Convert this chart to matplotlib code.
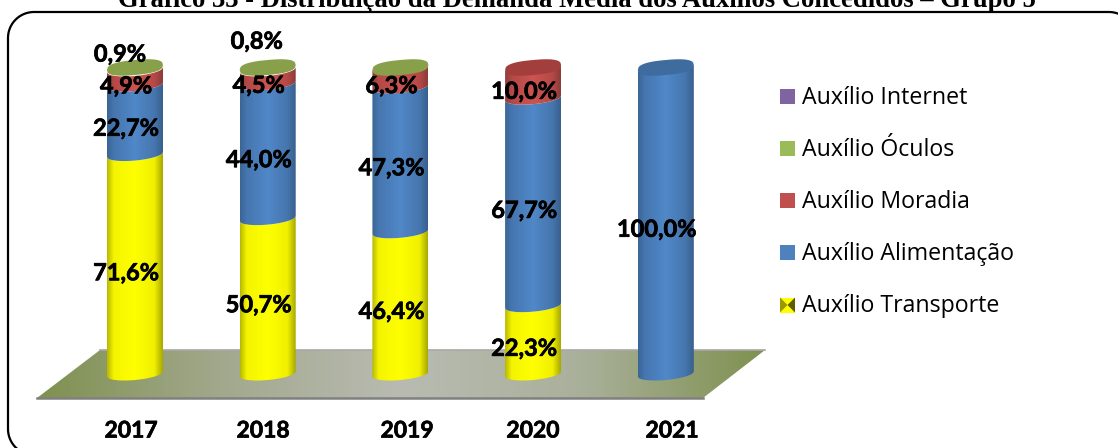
import numpy as np
import matplotlib
matplotlib.use("Agg")
import matplotlib.pyplot as plt
import matplotlib.patheffects as pe
from matplotlib.colors import LinearSegmentedColormap
from matplotlib.patches import Polygon

# ---------- data ----------
years = ["2017", "2018", "2019", "2020", "2021"]
series_names = ["Auxílio Transporte", "Auxílio Alimentação", "Auxílio Moradia",
                "Auxílio Óculos", "Auxílio Internet"]
transporte = [71.6, 50.7, 46.4, 22.3, 0.0]
alimentacao = [22.7, 44.0, 47.3, 67.7, 100.0]
moradia = [4.9, 4.5, 6.3, 10.0, 0.0]
oculos = [0.9, 0.8, 0.1, 0.0, 0.0]
internet = [0.0, 0.0, 0.0, 0.0, 0.0]
title = "Gráfico 33 - Distribuição da Demanda Média dos Auxílios Concedidos – Grupo 5"

# ---------- style ----------
W, H = 1118, 448
PX0 = 135.0      # pixel x of first category
STEP = 132.7     # pixels per category
PY0 = 374.0      # pixel y of 0 %
PPP = 3.065      # pixels per percent
HALF_W = 28.0    # cylinder half width, px
BULGE = 6.0      # front-arc depth, px
TILT = 2.5       # right side higher than left by this, px
year_px = [131, 263, 407, 533, 672]
stops = [0.0, 0.12, 0.5, 0.85, 1.0]
side_cols = {
    0: ("#b8b800", "#f4f400", "#ffff00", "#f0f000", "#a8a800"),
    1: ("#3a6596", "#4676b0", "#5088c8", "#4676ae", "#385f8e"),
    2: ("#8e3f3c", "#b54946", "#cc5451", "#b54946", "#8a3c3a"),
}
cap_cols = {0: "#d8d800", 1: "#3f6c9f", 2: "#a23f3c", 3: "#88a04a"}
legend_cols = {1: "#4f81bd", 2: "#c0504d", 3: "#9bbb59", 4: "#8064a2"}
thick = [pe.withStroke(linewidth=0.5, foreground="black")]
LABEL_FONT = dict(fontsize=17, fontweight="bold", family="Lato", color="black", zorder=20,
                  path_effects=thick)
YEAR_FONT = dict(fontsize=16.5, fontweight="bold", family="Lato", color="black", zorder=20,
                 path_effects=thick)

fig = plt.figure(figsize=(W / 100, H / 100), dpi=100)
ax = fig.add_axes([0, 0, 1, 1])
ax.axis("off")


def X(px):
    return (np.asarray(px, dtype=float) - PX0) / STEP


def Y(py):
    return (PY0 - np.asarray(py, dtype=float)) / PPP


dxu = HALF_W / STEP
bulge_u = BULGE / PPP
tilt_u = TILT / PPP

# outer rounded frame (runs past the right and bottom edges of the picture)
t = np.linspace(0, np.pi / 2, 24)
R = 26
xs, ys = [], []
for (cx, cy, a0) in [(8 + R, 12 + R, np.pi), (1135 - R, 12 + R, 1.5 * np.pi),
                     (1135 - R, 455 - R, 0.0), (8 + R, 455 - R, 0.5 * np.pi)]:
    xs += list(cx + R * np.cos(a0 + t))
    ys += list(cy + R * np.sin(a0 + t))
ax.add_patch(Polygon(np.column_stack([X(xs), Y(ys)]), closed=True,
                     fc="white", ec="black", lw=1.6, zorder=1))

# floor
floor_pts = np.array([[X(37), Y(398)], [X(100), Y(350)], [X(765), Y(350)], [X(703), Y(398)]])
floor_cm = LinearSegmentedColormap.from_list("fl", ["#7f9150", "#a2a88c", "#b9bbb2", "#a9b09a", "#7f9150"])
floor_img = ax.imshow(np.linspace(0, 1, 256)[None, :], extent=(X(37), X(765), Y(398), Y(350)),
                      cmap=floor_cm, aspect="auto", zorder=2, origin="lower")
floor_patch = Polygon(floor_pts, closed=True, fc="none", ec="none", transform=ax.transData)
ax.add_patch(floor_patch)
floor_img.set_clip_path(floor_patch)
ax.plot(floor_pts[[0, 3], 0], floor_pts[[0, 3], 1], color="#808080", lw=1.8, zorder=3)
ax.plot(floor_pts[[1, 2], 0], floor_pts[[1, 2], 1], color="#a8a8a8", lw=1.2, zorder=3)


def arc(cx, base, reverse=False):
    """Front arc of a cylinder section at value `base` (percent)."""
    u = np.linspace(-1, 1, 60)
    x = cx + u * dxu
    y = base + tilt_u * u - bulge_u * np.sqrt(1 - u ** 2)
    pts = np.column_stack([x, y])
    return pts[::-1] if reverse else pts


def cylinder_segment(cx, lo, hi, idx, z):
    cm = LinearSegmentedColormap.from_list(f"s{idx}", list(zip(stops, side_cols[idx])))
    img = ax.imshow(np.linspace(0, 1, 128)[None, :],
                    extent=(cx - dxu, cx + dxu, lo - 10, hi + 10), cmap=cm,
                    aspect="auto", zorder=z, origin="lower")
    poly = Polygon(np.vstack([arc(cx, lo), arc(cx, hi, reverse=True)]), closed=True,
                   fc="none", ec="none", transform=ax.transData)
    ax.add_patch(poly)
    img.set_clip_path(poly)


def cap(cx, val, idx, z):
    u = np.linspace(-1, 1, 80)
    x = cx + u * dxu
    y0 = val + tilt_u * u
    h = bulge_u * 1.25 * (1 - np.abs(u) ** 2.6) ** (1 / 2.6)
    pts = np.vstack([np.column_stack([x, y0 - h]), np.column_stack([x, y0 + h])[::-1]])
    ax.add_patch(Polygon(pts, closed=True, fc=cap_cols[idx], ec="none", zorder=z))


stack = [transporte, alimentacao, moradia, oculos, internet]
# offset of each label from the middle of its segment, px (right, down)
default_off = (-9, 8.5)
special_off = {(0, 3): (-15, -14.5), (1, 3): (-11, -27.5)}

fmt = lambda v: f"{v:.1f}%".replace(".", ",")
for i, yr in enumerate(years):
    cum = 0.0
    top_idx = 0
    for s, vals in enumerate(stack):
        v = vals[i]
        if v <= 0:
            continue
        if s < 3:
            cylinder_segment(i, cum, cum + v, s, 5 + s)
        if v >= 0.5:
            dx, dy = special_off.get((i, s), default_off)
            ax.annotate(fmt(v), xy=(i, cum + v / 2), xytext=(dx * 0.72, -dy * 0.72),
                        textcoords="offset points", ha="center", va="center", **LABEL_FONT)
        cum += v
        top_idx = s
    cap(i, 100.0, top_idx, 9)
    ax.text(X(year_px[i]), Y(431), yr, ha="center", va="center", **YEAR_FONT)

# legend, drawn to keep the reversed order and layout
leg_y = [96.5, 148.5, 200.5, 252.5, 305]
leg_x = 780
for (name, s, py) in zip(series_names[::-1], [4, 3, 2, 1, 0], leg_y):
    x0, x1 = X(leg_x), X(leg_x + 15)
    y0, y1 = Y(py - 7.5), Y(py + 7.5)
    col = legend_cols.get(s, "#ffff00")
    ax.add_patch(Polygon([[x0, y0], [x1, y0], [x1, y1], [x0, y1]], fc=col, ec="none", zorder=10))
    if s == 0:
        xm, ym = (x0 + x1) / 2, (y0 + y1) / 2
        ax.add_patch(Polygon([[x0, y0], [xm, ym], [x0, y1]], fc="#9a9a00", ec="none", zorder=11))
        ax.add_patch(Polygon([[x1, y0], [xm, ym], [x1, y1]], fc="#5c5c00", ec="none", zorder=11))
    ax.text(X(802), Y(py + 7), name, ha="left", va="baseline", fontsize=16.7,
            family="Open Sans", color="black", zorder=20)

# title, cut by the top edge of the picture
ax.text(X(577), Y(7), title, ha="center", va="baseline", fontsize=19.2, fontweight="bold",
        family="Liberation Serif", color="black", zorder=20)

ax.set_xlim(-PX0 / STEP, (W - PX0) / STEP)
ax.set_ylim((PY0 - H) / PPP, PY0 / PPP)
fig.savefig("out.png", dpi=100)
